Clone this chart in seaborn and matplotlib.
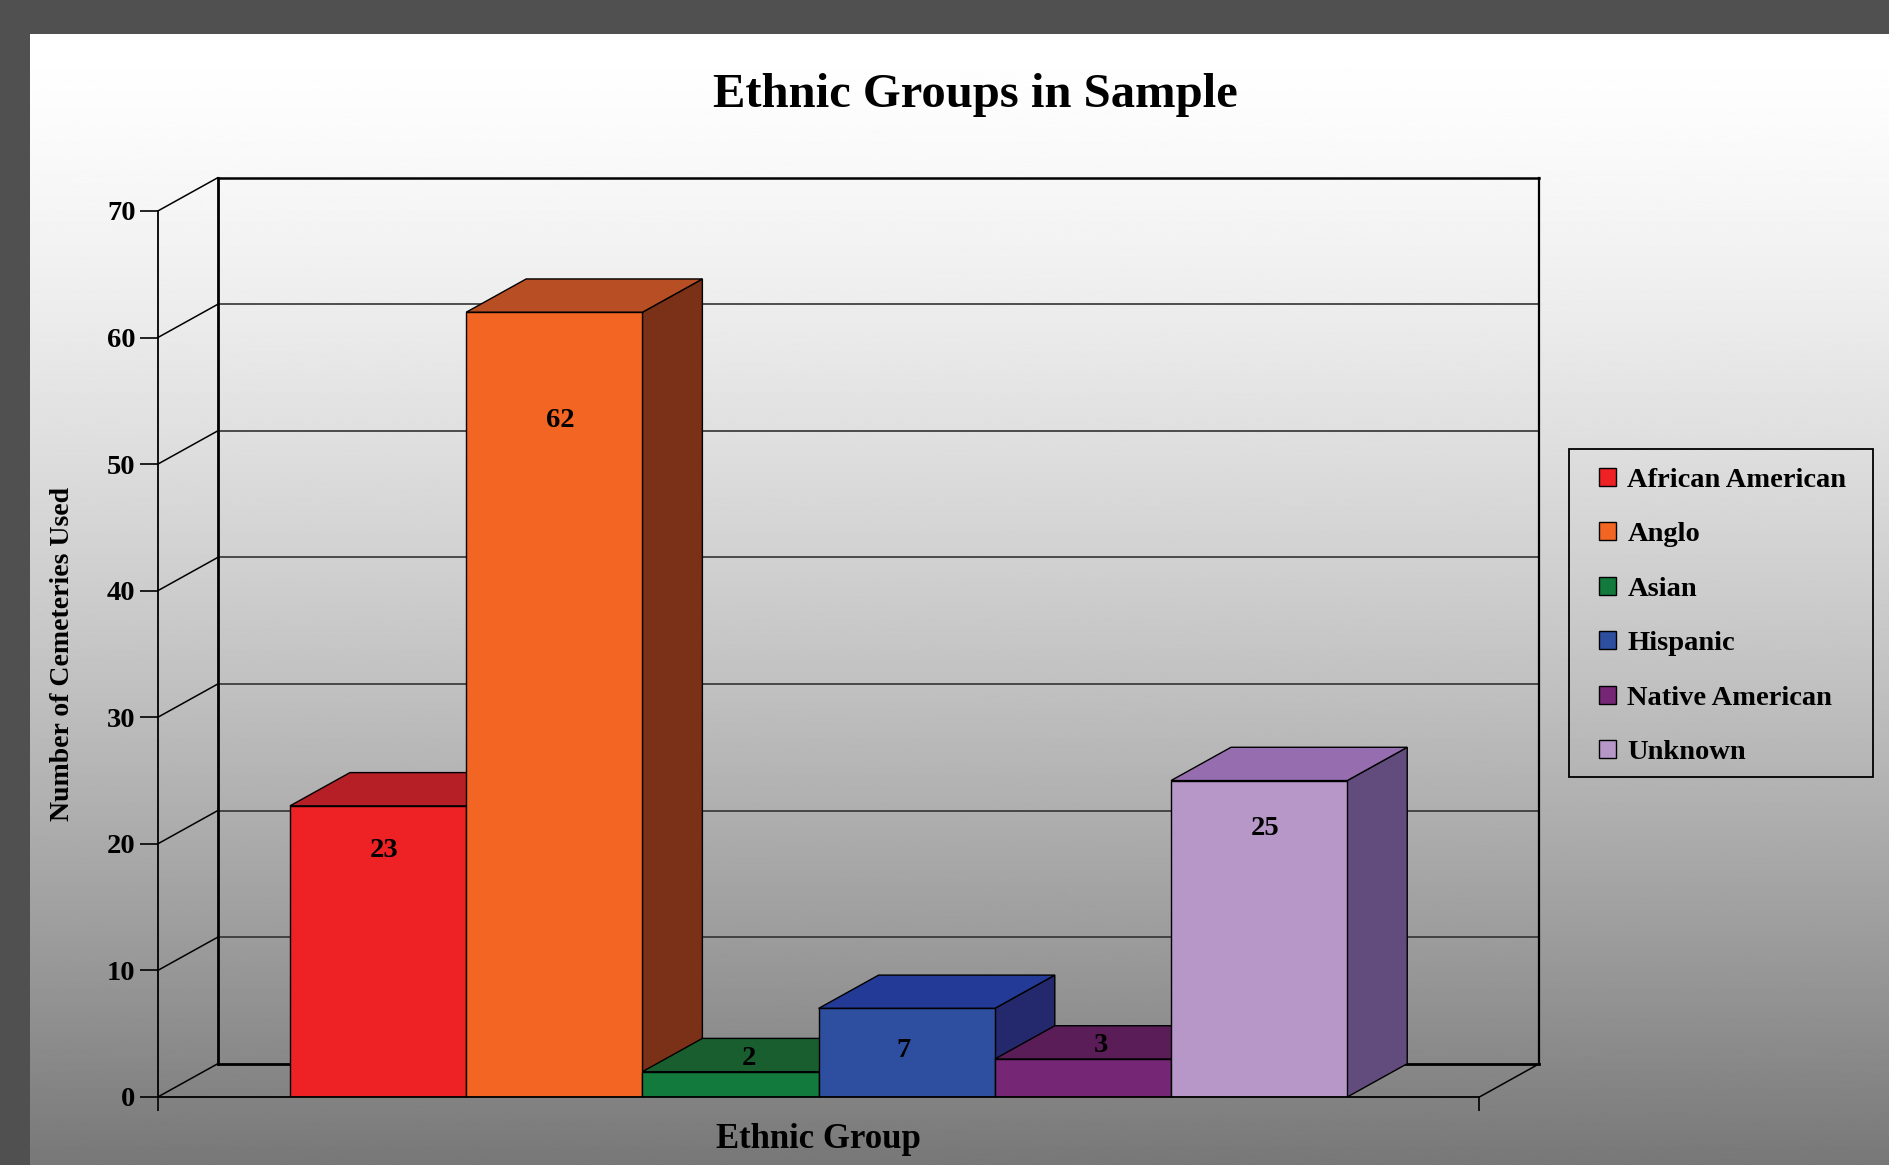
import numpy as np
import pandas as pd
import matplotlib
matplotlib.use('Agg')
import matplotlib.pyplot as plt
from matplotlib.patches import Polygon, Rectangle
import seaborn as sns

# dados
grupos = ['African American', 'Anglo', 'Asian', 'Hispanic', 'Native American', 'Unknown']
contagens = [23, 62, 2, 7, 3, 25]
y_ticks = [0, 10, 20, 30, 40, 50, 60, 70]
eixo_x = 'Ethnic Group'

# cores (frente, topo, lateral)
cores_frente = ['#EE2224', '#F26522', '#127A3C', '#2E4FA0', '#752675', '#B697C8']
cores_topo = ['#B51F25', '#B84F24', '#195E2E', '#233A96', '#5A1D57', '#966EB0']
cores_lado = ['#7A1518', '#7B3118', '#0F4A24', '#24286C', '#4A1648', '#624C7D']

plt.rcParams['font.family'] = ['Liberation Serif', 'DejaVu Serif']
plt.rcParams['font.weight'] = 'bold'

W, H = 1889, 1165
fig = plt.figure(figsize=(W / 100, H / 100), dpi=100)
fig.patch.set_facecolor('#505050')

# fundo com degradê (branco em cima, cinza embaixo)
bg = fig.add_axes([30 / W, 0, 1 - 30 / W, 1 - 34 / H])
t = np.linspace(0, 1, 512)
grad = (1 - 0.53 * t ** 1.4).reshape(-1, 1)
bg.imshow(grad, aspect='auto', cmap='gray', vmin=0, vmax=1, extent=[0, 1, 0, 1])
bg.axis('off')

# plano frontal do gráfico (pixels)
fx0, fx1, fy0, fy70 = 157.8, 1479.4, 1097, 211
ax = fig.add_axes([fx0 / W, (H - fy0) / H, (fx1 - fx0) / W, (fy0 - fy70) / H])
ax.set_facecolor('none')

df = pd.DataFrame({'grupo': [eixo_x] * len(grupos), 'etnia': grupos, 'n': contagens})
sns.barplot(data=df, x='grupo', y='n', hue='etnia', hue_order=grupos,
            palette=cores_frente, saturation=1, width=0.8,
            edgecolor='black', linewidth=1, ax=ax)

ax.set_xlim(-0.5, 0.5)
ax.set_ylim(0, 70)

# profundidade 3D em unidades de dados
prof_px = (60, 33.3)
ddx = prof_px[0] / (fx1 - fx0) * 1.0
ddy = prof_px[1] / (fy0 - fy70) * 70

# paredes do fundo
xl, xr = -0.5 + ddx, 0.5 + ddx
for y in y_ticks[1:-1]:
    ax.plot([xl, xr], [y + ddy] * 2, color='#333333', lw=1.2, zorder=1, clip_on=False)
for y in y_ticks:
    ax.plot([-0.5, xl], [y, y + ddy], color='black', lw=1.1, zorder=1, clip_on=False)
ax.plot([xl, xr], [70 + ddy] * 2, color='black', lw=1.8, zorder=1, clip_on=False)
ax.plot([xl, xr], [ddy] * 2, color='black', lw=2, zorder=1, clip_on=False)
ax.plot([xl, xl], [ddy, 70 + ddy], color='black', lw=2, zorder=1, clip_on=False)
ax.plot([xr, xr], [ddy, 70 + ddy], color='black', lw=1.6, zorder=1, clip_on=False)
ax.plot([0.5, xr], [0, ddy], color='black', lw=1.1, zorder=1, clip_on=False)

# faces laterais e superiores
barras = sorted([p for c in ax.containers for p in c], key=lambda p: p.get_x())
for i, (bar, val) in enumerate(zip(barras, contagens)):
    x0 = bar.get_x()
    x1 = x0 + bar.get_width()
    h = bar.get_height()
    z = 3 + i
    bar.set_zorder(z + 0.5)
    lado = Polygon([(x1, 0), (x1, h), (x1 + ddx, h + ddy), (x1 + ddx, ddy)],
                   facecolor=cores_lado[i], edgecolor='black', lw=1, zorder=z, clip_on=False)
    topo = Polygon([(x0, h), (x1, h), (x1 + ddx, h + ddy), (x0 + ddx, h + ddy)],
                   facecolor=cores_topo[i], edgecolor='black', lw=1, zorder=z + 0.3, clip_on=False)
    ax.add_patch(lado)
    ax.add_patch(topo)

    # rótulo de valor
    xc = (x0 + x1) / 2
    if val > 10:
        xt, yt = xc + ddx * 0.1, val * 0.87 - 0.5
    elif val > 5:
        xt, yt = xc - ddx * 0.05, val / 2 + 0.2
    else:
        xt, yt = xc + ddx * 0.3, val + ddy * 0.4
    ax.text(xt, yt, f'{val}', ha='center', va='center',
            fontsize=20.5, fontweight='bold', zorder=20)

# eixos
for s in ['top', 'right']:
    ax.spines[s].set_visible(False)
for s in ['left', 'bottom']:
    ax.spines[s].set_color('black')
    ax.spines[s].set_linewidth(1.3)
    ax.spines[s].set_zorder(30)
ax.set_yticks(y_ticks)
ax.set_xticks([-0.5, 0.5])
ax.set_xticklabels(['', ''])
ax.tick_params(axis='y', direction='out', length=13, width=1.2, labelsize=20.5, pad=3)
ax.tick_params(axis='x', direction='out', length=10, width=1.2)

ax.set_ylabel('Number of Cemeteries Used', fontsize=20, fontweight='bold', va='center')
ax.yaxis.set_label_coords((63 - fx0) / (fx1 - fx0), 0.5)
ax.set_xlabel(eixo_x, fontsize=25, fontweight='bold', va='center')
ax.xaxis.set_label_coords(0.5, -(1139 - fy0) / (fy0 - fy70))

# legenda (moldura desenhada à parte)
sns.move_legend(ax, 'upper left', bbox_to_anchor=(1599 / W, 1 - 468 / H),
                bbox_transform=fig.transFigure, title=None, frameon=False,
                borderpad=0, labelspacing=1.03, handlelength=0.6, handleheight=0.6,
                handletextpad=0.4, borderaxespad=0,
                prop={'family': ['Liberation Serif', 'DejaVu Serif'], 'weight': 'bold', 'size': 20.5})
leg = ax.get_legend()
for hnd in leg.legend_handles:
    hnd.set_edgecolor('black')
    hnd.set_linewidth(1)
fig.patches.append(Rectangle((1569 / W, 1 - 777 / H), (1873 - 1569) / W, (777 - 449) / H,
                             transform=fig.transFigure, fill=False,
                             edgecolor='black', lw=1.3))

fig.text(975 / W, 1 - 95 / H, 'Ethnic Groups in Sample', ha='center', va='center',
         fontsize=35, fontweight='bold')

fig.savefig('out.png', dpi=100)
